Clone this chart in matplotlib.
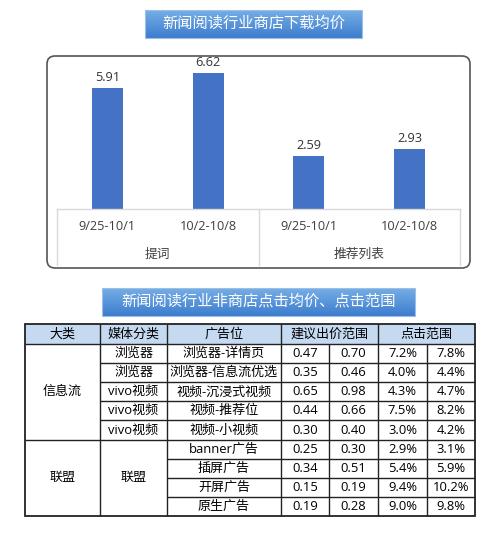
import numpy as np
import matplotlib.pyplot as plt
from matplotlib.patches import FancyBboxPatch, Rectangle

plt.rcParams['font.family'] = ['Open Sans', 'Noto Sans CJK SC', 'DejaVu Sans']

# --- data -------------------------------------------------------------
title_top = '新闻阅读行业商店下载均价'
title_bottom = '新闻阅读行业非商店点击均价、点击范围'

bar_periods = ['9/25-10/1', '10/2-10/8', '9/25-10/1', '10/2-10/8']
bar_groups = ['提词', '推荐列表']
bar_values = [5.91, 6.62, 2.59, 2.93]

header = ['大类', '媒体分类', '广告位', '建议出价范围', '点击范围']
big_class = ['信息流', '联盟']
big_class_rows = [5, 4]
media = ['浏览器', '浏览器', 'vivo视频', 'vivo视频', 'vivo视频', '联盟']
ad_slot = ['浏览器-详情页', '浏览器-信息流优选', '视频-沉浸式视频', '视频-推荐位',
           '视频-小视频', 'banner广告', '插屏广告', '开屏广告', '原生广告']
bid_low = ['0.47', '0.35', '0.65', '0.44', '0.30', '0.25', '0.34', '0.15', '0.19']
bid_high = ['0.70', '0.46', '0.98', '0.66', '0.40', '0.30', '0.51', '0.19', '0.28']
ctr_low = ['7.2%', '4.0%', '4.3%', '7.5%', '3.0%', '2.9%', '5.4%', '9.4%', '9.0%']
ctr_high = ['7.8%', '4.4%', '4.7%', '8.2%', '4.2%', '3.1%', '5.9%', '10.2%', '9.8%']

# --- figure with a pixel overlay --------------------------------------
W, H = 500, 538
fig = plt.figure(figsize=(W / 100, H / 100), dpi=100)
bg = fig.add_axes([0, 0, 1, 1])
bg.set_xlim(0, W)
bg.set_ylim(H, 0)
bg.axis('off')

def title_box(x0, x1, y0, y1, text):
    grad = np.linspace(0, 1, 64)[:, None]
    top = np.array([0.46, 0.68, 0.90])
    bot = np.array([0.24, 0.49, 0.81])
    img = top + (bot - top) * grad[..., None]
    img = np.repeat(img, 2, axis=1)
    bg.imshow(img, extent=(x0, x1, y1, y0), aspect='auto', zorder=1)
    bg.add_patch(Rectangle((x0, y0), x1 - x0, y1 - y0, fill=False,
                           ec='#9dbfe6', lw=0.8, zorder=2))
    bg.text((x0 + x1) / 2, (y0 + y1) / 2, text, color='white', fontsize=11,
            ha='center', va='center', zorder=3)

title_box(145, 362, 10, 38, title_top)
title_box(102, 415, 288, 316, title_bottom)

# chart frame
bg.add_patch(FancyBboxPatch((47, 56), 423, 212, boxstyle='round,pad=0,rounding_size=8',
                            fc='white', ec='#555555', lw=1.2, zorder=0.5))

# --- bar chart --------------------------------------------------------
base_y, top_y, left_x, right_x = 209, 60, 57, 460
ax = fig.add_axes([left_x / W, (H - base_y) / H, (right_x - left_x) / W, (base_y - top_y) / H])
ax.patch.set_alpha(0)
x = np.arange(len(bar_values))
bars = ax.bar(x, bar_values, width=0.31, color='#4472c4')
ax.set_xlim(-0.5, len(bar_values) - 0.5)
ax.set_ylim(0, (base_y - top_y) / 20.5)
ax.axis('off')
for b, v in zip(bars, bar_values):
    ax.annotate(f'{v:.2f}', (b.get_x() + b.get_width() / 2, v), xytext=(0, 3),
                textcoords='offset points', ha='center', va='bottom',
                fontsize=9.2, color='#333333')

px = 1.0 / (base_y - top_y)
tr = ax.get_xaxis_transform()
for i, lab in enumerate(bar_periods):
    ax.text(i, -17 * px, lab, transform=tr, ha='center', va='center',
            fontsize=9.2, color='#404040')
for g, lab in enumerate(bar_groups):
    ax.text(2 * g + 0.5, -45 * px, lab, transform=tr, ha='center', va='center',
            fontsize=9.2, color='#404040')
ax.plot([-0.5, 3.5], [0, 0], transform=tr, color='#d9d9d9', lw=1, clip_on=False)
for xv in [-0.5, 1.5, 3.5]:
    ax.plot([xv, xv], [0, -56 * px], transform=tr, color='#d9d9d9', lw=1, clip_on=False)

# --- table ------------------------------------------------------------
cols = [25, 100, 167, 281, 329, 378, 427, 475]
ty0, hdr_h = 324, 20
n_rows = len(ad_slot)
row_h = (516 - ty0 - hdr_h) / n_rows
rows = [ty0 + hdr_h + i * row_h for i in range(n_rows + 1)]
tx0, tx1, ty1 = cols[0], cols[-1], rows[-1]
lc, fs = '#222222', 9.4

bg.add_patch(Rectangle((tx0, ty0), tx1 - tx0, hdr_h, fc='#c5d9f0', ec='none', zorder=1))

def cell_text(xa, xb, ya, yb, s):
    bg.text((xa + xb) / 2, (ya + yb) / 2, s, ha='center', va='center',
            fontsize=fs, color='black', zorder=3)

# header
hdr_spans = [(0, 1), (1, 2), (2, 3), (3, 5), (5, 7)]
for (a, b), s in zip(hdr_spans, header):
    cell_text(cols[a], cols[b], ty0, ty0 + hdr_h, s)

# body
r = 0
for s, n in zip(big_class, big_class_rows):
    cell_text(cols[0], cols[1], rows[r], rows[r + n], s)
    r += n
for i in range(big_class_rows[0]):
    cell_text(cols[1], cols[2], rows[i], rows[i + 1], media[i])
cell_text(cols[1], cols[2], rows[big_class_rows[0]], rows[-1], media[-1])
for i in range(n_rows):
    for c, vals in enumerate([ad_slot, bid_low, bid_high, ctr_low, ctr_high]):
        cell_text(cols[c + 2], cols[c + 3], rows[i], rows[i + 1], vals[i])

# grid lines
def hline(y, xa, xb, lw=1.0):
    bg.plot([xa, xb], [y, y], color=lc, lw=lw, zorder=2, solid_capstyle='butt')

def vline(xv, ya, yb, lw=1.0):
    bg.plot([xv, xv], [ya, yb], color=lc, lw=lw, zorder=2, solid_capstyle='butt')

hline(ty0 + hdr_h, tx0, tx1)
split = rows[big_class_rows[0]]
hline(split, tx0, tx1)
for i in range(1, n_rows):
    y = rows[i]
    if i == big_class_rows[0]:
        continue
    if i < big_class_rows[0]:
        hline(y, cols[1], tx1)
    else:
        hline(y, cols[2], tx1)
for c in [1, 2, 3, 5]:
    vline(cols[c], ty0, ty1)
for c in [4, 6]:
    vline(cols[c], ty0 + hdr_h, ty1)
bg.add_patch(Rectangle((tx0, ty0), tx1 - tx0, ty1 - ty0, fill=False, ec=lc, lw=1.3, zorder=2))

fig.savefig('out.png', dpi=100)
